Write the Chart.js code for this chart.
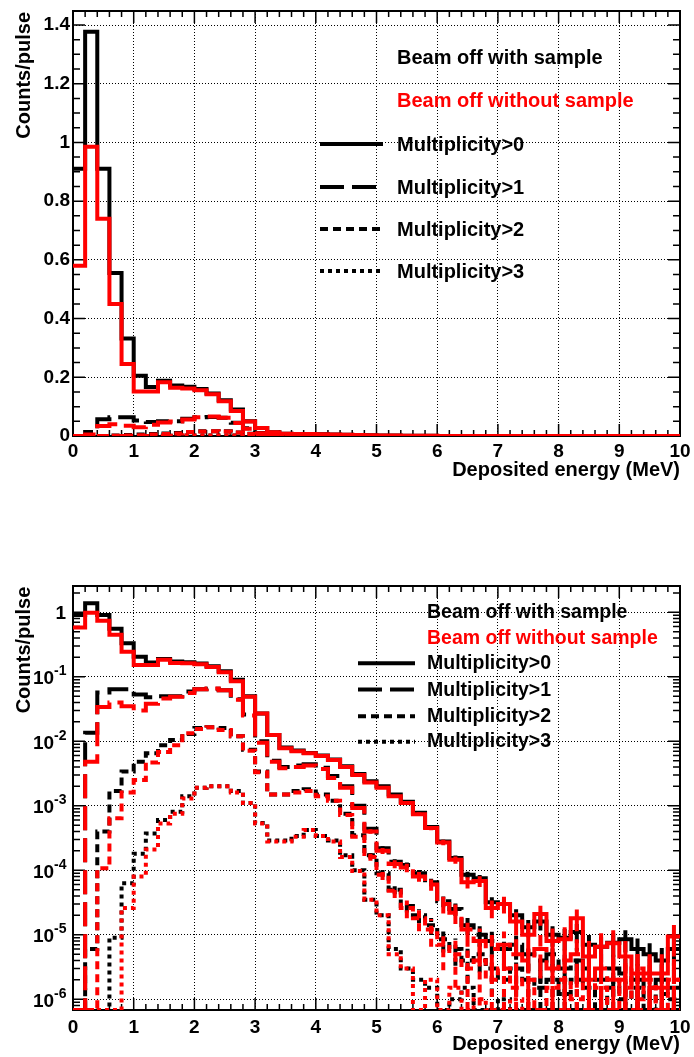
<!DOCTYPE html>
<html><head><meta charset="utf-8">
<script src="https://cdn.jsdelivr.net/npm/chart.js@4/dist/chart.umd.min.js"></script>
<style>
html,body{margin:0;padding:0;background:#fff;}
#wrap{position:relative;width:694px;height:1057px;background:#fff;}
canvas{position:absolute;left:0;}
</style></head><body>
<div id="wrap">
<canvas id="cTop" width="694" height="528" style="top:0px"></canvas>
<canvas id="cBot" width="694" height="529" style="top:528px"></canvas>
</div>
<script>
// ---------------- DATA ----------------
const BIN_EDGES = [0,0.2,0.4,0.6,0.8,1,1.2,1.4,1.6,1.8,2,2.2,2.4,2.6,2.8,3,3.2,3.4,3.6,3.8,4,4.2,4.4,4.6,4.8,5,5.2,5.4,5.6,5.8,6,6.2,6.4,6.6,6.8,7,7.2,7.4,7.6,7.8,8,8.2,8.4,8.6,8.8,9,9.2,9.4,9.6,9.8,10];
const X_TICKS = [0,1,2,3,4,5,6,7,8,9,10];
const X_TICK_LABELS = ['0','1','2','3','4','5','6','7','8','9','10'];
const X_MINOR_TICKS = [0.2,0.4,0.6,0.8,1.2,1.4,1.6,1.8,2.2,2.4,2.6,2.8,3.2,3.4,3.6,3.8,4.2,4.4,4.6,4.8,5.2,5.4,5.6,5.8,6.2,6.4,6.6,6.8,7.2,7.4,7.6,7.8,8.2,8.4,8.6,8.8,9.2,9.4,9.6,9.8];
const Y_LIN_TICKS = [0,0.2,0.4,0.6,0.8,1,1.2,1.4];
const Y_LIN_LABELS = ['0','0.2','0.4','0.6','0.8','1','1.2','1.4'];
const Y_LIN_MINOR = [0.05,0.1,0.15,0.25,0.3,0.35,0.45,0.5,0.55,0.65,0.7,0.75,0.85,0.9,0.95,1.05,1.1,1.15,1.25,1.3,1.35];
const Y_LIN_MAX = 1.4477;
const Y_LOG_TICKS = [1e-6,1e-5,1e-4,1e-3,1e-2,1e-1,1];
const Y_LOG_EXPONENTS = ['-6','-5','-4','-3','-2','-1',''];
const Y_LOG_MINOR = [7e-7,8e-7,9e-7,2e-6,3e-6,4e-6,5e-6,6e-6,7e-6,8e-6,9e-6,2e-5,3e-5,4e-5,5e-5,6e-5,7e-5,8e-5,9e-5,2e-4,3e-4,4e-4,5e-4,6e-4,7e-4,8e-4,9e-4,2e-3,3e-3,4e-3,5e-3,6e-3,7e-3,8e-3,9e-3,0.02,0.03,0.04,0.05,0.06,0.07,0.08,0.09,0.2,0.3,0.4,0.5,0.6,0.7,0.8,0.9,2];
const Y_LOG_MIN = 6.8e-7;
const Y_LOG_MAX = 2.557;

const LEGEND_HEADERS = ['Beam off with sample','Beam off without sample'];
const SERIES_NAMES = ['Multiplicity>0','Multiplicity>1','Multiplicity>2','Multiplicity>3'];
const X_TITLE = 'Deposited energy (MeV)';
const Y_TITLE = 'Counts/pulse';

// Beam off with sample (black) - counts/pulse per 0.2 MeV bin
const WITH_M0 = [0.91,1.377,0.91,0.555,0.332,0.205,0.167,0.188,0.172,0.168,0.16,0.145,0.122,0.09,0.05,0.027,0.0125,0.008,0.0072,0.0066,0.006,0.0052,0.0041,0.0031,0.0024,0.002,0.0015,0.00115,0.00078,0.00047,0.00028,0.000155,0.000085,0.000075,0.000032,0.00003,0.00002,0.000013,0.000016,0.00001,0.000009,0.000011,0.000007,0.0000065,0.0000075,0.0000085,0.000006,0.000005,0.000004,0.000006];
const WITH_M1 = [0,0.0136,0.057,0.064,0.064,0.053,0.048,0.05,0.05,0.059,0.064,0.065,0.062,0.045,0.026,0.01,0.005,0.004,0.0042,0.0044,0.0039,0.0029,0.002,0.001,0.00044,0.00022,0.000135,0.00012,0.00009,0.000065,0.000033,0.000025,0.000014,0.00001,0.000008,0.000006,0.000007,0.000005,0.000004,0.000005,0.000003,0.000004,0.000003,0.000002,0.000003,0.0000025,0.000002,0.0000015,0.000002,0.0000015];
const WITH_M2 = [0,0.000006,0.0004,0.0017,0.0034,0.0048,0.0065,0.0087,0.0105,0.013,0.016,0.0165,0.016,0.012,0.0074,0.0034,0.0015,0.0015,0.0017,0.0018,0.0015,0.0012,0.00075,0.00035,0.00017,0.00009,0.00005,0.000028,0.00002,0.000014,0.0000085,0.000006,0.000004,0.000005,0.000003,0.000002,0.000003,0.000002,0.0000015,0.000002,0.0000012,0.000002,0.0000015,0,0.0000015,0.000001,0.0000015,0,0.0000012,0.000001];
const WITH_M3 = [0,0,0,0.000009,0.000063,0.00018,0.00037,0.0006,0.00081,0.0014,0.0019,0.002,0.002,0.0017,0.0011,0.00054,0.00029,0.00029,0.00034,0.00042,0.00034,0.00029,0.00017,0.0001,0.000035,0.00002,0.000006,0.000003,0.000002,0.0000015,0,0.000001,0.0000015,0,0,0.000001,0,0,0,0,0,0,0,0,0,0,0,0,0,0];
// Beam off without sample (red)
const WITHOUT_M0 = [0.58,0.985,0.74,0.45,0.245,0.152,0.152,0.183,0.164,0.162,0.156,0.142,0.118,0.085,0.049,0.027,0.0125,0.0078,0.007,0.0065,0.0059,0.0051,0.004,0.003,0.0023,0.0019,0.0014,0.0011,0.00074,0.00045,0.00027,0.000145,0.000065,0.000068,0.000026,0.00003,0.000016,0.00001,0.000021,0.000008,0.0000085,0.000018,0.0000046,0.0000065,0.0000074,0.0000046,0.0000025,0.0000025,0.0000025,0.0000094];
const WITHOUT_M1 = [0,0.0048,0.034,0.04,0.035,0.03,0.038,0.046,0.049,0.056,0.064,0.066,0.062,0.044,0.025,0.0095,0.0048,0.0038,0.004,0.0042,0.0037,0.0027,0.0019,0.00092,0.0004,0.0002,0.000125,0.00011,0.00008,0.00006,0.00003,0.000022,0.000012,0.000008,0.000006,0.000007,0.000005,0.000004,0.000006,0.000003,0.000004,0.000005,0.000002,0.000003,0.000002,0.0000015,0.000003,0.000002,0.0000015,0.000002];
const WITHOUT_M2 = [0,0,0.000107,0.00064,0.0016,0.0025,0.0047,0.0068,0.0087,0.0133,0.0155,0.0165,0.015,0.012,0.0071,0.0033,0.0015,0.0015,0.0016,0.0017,0.0014,0.0012,0.00072,0.00033,0.00016,0.000085,0.000048,0.000026,0.000018,0.000012,0.000007,0.000005,0.000003,0.000004,0.000002,0.000003,0.0000015,0.000002,0,0.0000015,0.000002,0.000001,0.000002,0.0000015,0,0.000002,0.000001,0.0000015,0,0.000002];
const WITHOUT_M3 = [0,0,0,0,0.000026,0.00008,0.00021,0.00053,0.00075,0.0013,0.0019,0.002,0.002,0.0016,0.0011,0.00053,0.00028,0.00028,0.00033,0.00042,0.00034,0.00028,0.00016,0.000097,0.000035,0.00002,0.000005,0.000003,0,0.000002,0,0.0000015,0,0.000001,0,0,0.000001,0,0,0,0,0,0,0,0,0,0,0,0,0];

// Statistical error bars (half-length); 0 = not visible
const ERR_WITH_M0 = [0,0,0,0,0,0,0,0,0,0,0,0,0,0,0,0,0,0,0,0,0,0,0,0,0.000054,0.000049,0.000042,0.000037,0.000031,0.000024,0.000018,0.0000136,0.00001,0.0000095,0.0000062,0.000006,0.0000049,0.0000039,0.0000044,0.0000035,0.0000033,0.0000036,0.0000029,0.0000028,0.000003,0.0000032,0.0000027,0.0000024,0.0000022,0.0000027];
const ERR_WITH_M1 = [0,0,0,0,0,0,0,0,0,0,0,0,0,0,0,0,0,0,0,0,0,0,0,0,0.000023,0.000016,0.0000127,0.000012,0.0000104,0.0000088,0.0000063,0.0000055,0.0000041,0.0000035,0.0000031,0.0000027,0.0000029,0.0000024,0.0000022,0.0000024,0.0000019,0.0000022,0.0000019,0.0000015,0.0000019,0.0000017,0.0000015,0.0000013,0.0000015,0.0000013];
const ERR_WITH_M2 = [0,0,0,0,0,0,0,0,0,0,0,0,0,0,0,0,0,0,0,0,0,0,0,0,0.0000143,0.0000104,0.0000077,0.0000058,0.0000049,0.0000041,0.0000032,0.0000027,0.0000022,0.0000024,0.0000019,0.0000015,0.0000019,0.0000015,0.0000013,0.0000015,0.0000012,0.0000015,0.0000013,0,0.0000013,0.0000011,0.0000013,0,0.0000012,0.0000011];
const ERR_WITHOUT_M0 = [0,0,0,0,0,0,0,0,0,0,0,0,0,0,0,0,0,0,0,0,0,0,0,0,0.00008,0.000069,0.000059,0.000052,0.000043,0.000034,0.000026,0.000019,0.000013,0.000013,0.000008,0.0000087,0.0000063,0.000005,0.0000072,0.0000045,0.0000046,0.0000067,0.0000034,0.000004,0.0000043,0.0000034,0.0000025,0.0000025,0.0000025,0.0000048];
const ERR_WITHOUT_M1 = [0,0,0,0,0,0,0,0,0,0,0,0,0,0,0,0,0,0,0,0,0,0,0,0,0.000032,0.000022,0.000018,0.0000166,0.000014,0.000012,0.0000087,0.0000074,0.0000055,0.0000045,0.0000039,0.0000042,0.0000035,0.0000032,0.0000039,0.0000027,0.0000032,0.0000035,0.0000022,0.0000027,0.0000022,0.0000019,0.0000027,0.0000022,0.0000019,0.0000022];
const ERR_WITHOUT_M2 = [0,0,0,0,0,0,0,0,0,0,0,0,0,0,0,0,0,0,0,0,0,0,0,0,0.00002,0.0000146,0.000011,0.000008,0.0000067,0.0000055,0.0000042,0.0000035,0.0000027,0.0000032,0.0000022,0.0000027,0.0000019,0.0000022,0,0.0000019,0.0000022,0.0000016,0.0000022,0.0000019,0,0.0000022,0.0000016,0.0000019,0,0.0000022];

// ---------------- STYLE ----------------
const FONT = "'Liberation Sans', Arial, Helvetica, sans-serif";
const DASHES = [[], [24, 8], [8, 5], [4, 4]];
const BLACK = '#000000', RED = '#ff0000';

function stepPoints(vals, floor) {
  const pts = vals.map((v, i) => ({x: BIN_EDGES[i], y: (floor != null && v <= 0) ? floor : v}));
  pts.push({x: BIN_EDGES[vals.length], y: pts[pts.length - 1].y});
  return pts;
}
function errPoints(vals, errs, floor) {
  const pts = [];
  vals.forEach((v, i) => {
    const e = errs[i];
    if (!e) return;
    const xc = (BIN_EDGES[i] + BIN_EDGES[i + 1]) / 2;
    let lo = v - e;
    if (floor != null && lo < floor) lo = floor;
    pts.push({x: xc, y: lo}, {x: xc, y: v + e}, {x: xc, y: null});
  });
  return pts;
}

function buildDatasets(floor) {
  const red = [WITHOUT_M0, WITHOUT_M1, WITHOUT_M2, WITHOUT_M3];
  const blk = [WITH_M0, WITH_M1, WITH_M2, WITH_M3];
  const redErr = [ERR_WITHOUT_M0, ERR_WITHOUT_M1, ERR_WITHOUT_M2, null];
  const blkErr = [ERR_WITH_M0, ERR_WITH_M1, ERR_WITH_M2, null];
  const ds = [];
  const add = (arr, errs, color, name, i, ord) => {
    ds.push({label: name, data: stepPoints(arr, floor), borderColor: color, borderWidth: 4, borderDash: DASHES[i],
      stepped: 'before', pointRadius: 0, fill: false, order: ord});
    if (errs) ds.push({label: name + ' errors', data: errPoints(arr, errs, floor), borderColor: color, borderWidth: 4,
      borderDash: DASHES[i], pointRadius: 0, fill: false, spanGaps: false, order: ord});
  };
  red.forEach((arr, i) => add(arr, redErr[i], RED, LEGEND_HEADERS[1] + ' ' + SERIES_NAMES[i], i, i));
  blk.forEach((arr, i) => add(arr, blkErr[i], BLACK, LEGEND_HEADERS[0] + ' ' + SERIES_NAMES[i], i, 4 + i));
  return ds;
}

function axisDecor(cfg) {
  return {
    id: 'axisDecor',
    beforeDatasetsDraw(chart) {
      const {ctx, chartArea: a, scales: {x, y}} = chart;
      ctx.save();
      ctx.strokeStyle = '#000';
      ctx.lineWidth = 1.5;
      ctx.beginPath();
      X_TICKS.forEach(v => { const p = x.getPixelForValue(v);
        ctx.moveTo(p, a.bottom); ctx.lineTo(p, a.bottom - 12); ctx.moveTo(p, a.top); ctx.lineTo(p, a.top + 12); });
      X_MINOR_TICKS.forEach(v => { const p = x.getPixelForValue(v);
        ctx.moveTo(p, a.bottom); ctx.lineTo(p, a.bottom - 6); ctx.moveTo(p, a.top); ctx.lineTo(p, a.top + 6); });
      cfg.yMajor.forEach(v => { const p = y.getPixelForValue(v);
        ctx.moveTo(a.left, p); ctx.lineTo(a.left + 12, p); ctx.moveTo(a.right, p); ctx.lineTo(a.right - 12, p); });
      cfg.yMinor.forEach(v => { const p = y.getPixelForValue(v);
        ctx.moveTo(a.left, p); ctx.lineTo(a.left + 7, p); ctx.moveTo(a.right, p); ctx.lineTo(a.right - 7, p); });
      ctx.stroke();
      ctx.lineWidth = 2;
      ctx.strokeRect(a.left, a.top, a.right - a.left, a.bottom - a.top);
      ctx.restore();
    },
    afterDraw(chart) {
      const {ctx, chartArea: a, scales: {y}} = chart;
      ctx.save();
      ctx.fillStyle = '#000';
      if (cfg.log) {
        Y_LOG_TICKS.forEach((v, i) => {
          const p = y.getPixelForValue(v);
          const e = Y_LOG_EXPONENTS[i];
          ctx.textAlign = 'right'; ctx.textBaseline = 'alphabetic';
          if (e === '') {
            ctx.font = `bold 19px ${FONT}`;
            ctx.fillText('1', 66, p + 6.5);
          } else {
            ctx.font = `bold 14px ${FONT}`;
            const w = ctx.measureText(e).width;
            ctx.fillText(e, 66.5, p - 1.5);
            ctx.font = `bold 19px ${FONT}`;
            ctx.fillText('10', 66.5 - w, p + 7.5);
          }
        });
      }
      ctx.font = `bold 20px ${FONT}`;
      ctx.textAlign = 'right'; ctx.textBaseline = 'alphabetic';
      ctx.fillText(X_TITLE, a.right, cfg.xTitleBase);
      ctx.save();
      ctx.translate(29.5, cfg.yTitleTop);
      ctx.rotate(-Math.PI / 2);
      ctx.fillText(Y_TITLE, 0, 0);
      ctx.restore();
      const L = cfg.legend;
      ctx.font = `bold ${L.size}px ${FONT}`;
      ctx.textAlign = 'left';
      ctx.fillStyle = BLACK; ctx.fillText(LEGEND_HEADERS[0], L.tx, L.base[0]);
      ctx.fillStyle = RED; ctx.fillText(LEGEND_HEADERS[1], L.tx, L.base[1]);
      for (let i = 0; i < 4; i++) {
        ctx.fillStyle = BLACK;
        ctx.fillText(SERIES_NAMES[i], L.tx, L.base[i + 2]);
        ctx.strokeStyle = BLACK; ctx.lineWidth = 4; ctx.setLineDash(DASHES[i]);
        ctx.beginPath(); ctx.moveTo(L.lx0, L.ly[i]); ctx.lineTo(L.lx1, L.ly[i]); ctx.stroke();
        ctx.setLineDash([]);
      }
      ctx.restore();
    }
  };
}

function xScale(h, pad) {
  return {
    type: 'linear', min: 0, max: 10, position: 'bottom',
    afterBuildTicks: s => { s.ticks = X_TICKS.map(v => ({value: v})); },
    afterFit: s => { s.height = h; s.paddingLeft = 0; s.paddingRight = 0; },
    ticks: {callback: (v, i) => X_TICK_LABELS[i], font: {family: FONT, weight: 'bold', size: 19}, color: '#000', padding: pad, maxRotation: 0, autoSkip: false},
    grid: {color: '#000', lineWidth: 1, drawTicks: false},
    border: {display: false, dash: [1, 2]}
  };
}

new Chart(document.getElementById('cTop'), {
  type: 'line',
  data: {datasets: buildDatasets(null)},
  options: {
    responsive: false, animation: false, events: [],
    layout: {padding: {left: 0, right: 14, top: 11, bottom: 0}},
    plugins: {legend: {display: false}, tooltip: {enabled: false}},
    scales: {
      x: xScale(92, 4),
      y: {
        type: 'linear', min: 0, max: Y_LIN_MAX, position: 'left',
        afterBuildTicks: s => { s.ticks = Y_LIN_TICKS.map(v => ({value: v})); },
        afterFit: s => { s.width = 73; s.paddingTop = 0; s.paddingBottom = 0; },
        ticks: {callback: (v, i) => Y_LIN_LABELS[i], font: {family: FONT, weight: 'bold', size: 19}, color: '#000', padding: 3},
        grid: {color: '#000', lineWidth: 1, drawTicks: false},
        border: {display: false, dash: [1, 2]}
      }
    }
  },
  plugins: [axisDecor({log: false, yMajor: Y_LIN_TICKS, yMinor: Y_LIN_MINOR, xTitleBase: 476, yTitleTop: 12,
    legend: {size: 20, tx: 397, base: [64, 107, 151, 194, 236, 278], lx0: 320, lx1: 383, ly: [144, 187, 229, 271]}})]
});

new Chart(document.getElementById('cBot'), {
  type: 'line',
  data: {datasets: buildDatasets(Y_LOG_MIN)},
  options: {
    responsive: false, animation: false, events: [],
    layout: {padding: {left: 0, right: 14, top: 58, bottom: 0}},
    plugins: {legend: {display: false}, tooltip: {enabled: false}},
    scales: {
      x: xScale(47, 6),
      y: {
        type: 'logarithmic', min: Y_LOG_MIN, max: Y_LOG_MAX, position: 'left',
        afterBuildTicks: s => { s.ticks = Y_LOG_TICKS.map(v => ({value: v})); },
        afterFit: s => { s.width = 73; s.paddingTop = 0; s.paddingBottom = 0; },
        ticks: {display: false},
        grid: {color: '#000', lineWidth: 1, drawTicks: false},
        border: {display: false, dash: [1, 2]}
      }
    }
  },
  plugins: [axisDecor({log: true, yMajor: Y_LOG_TICKS, yMinor: Y_LOG_MINOR, xTitleBase: 522, yTitleTop: 58.7,
    legend: {size: 19.5, tx: 427, base: [89.5, 116, 141, 167.5, 194, 219], lx0: 358, lx1: 415, ly: [135.3, 161.5, 188.3, 213.7]}})]
});
</script>
</body></html>
